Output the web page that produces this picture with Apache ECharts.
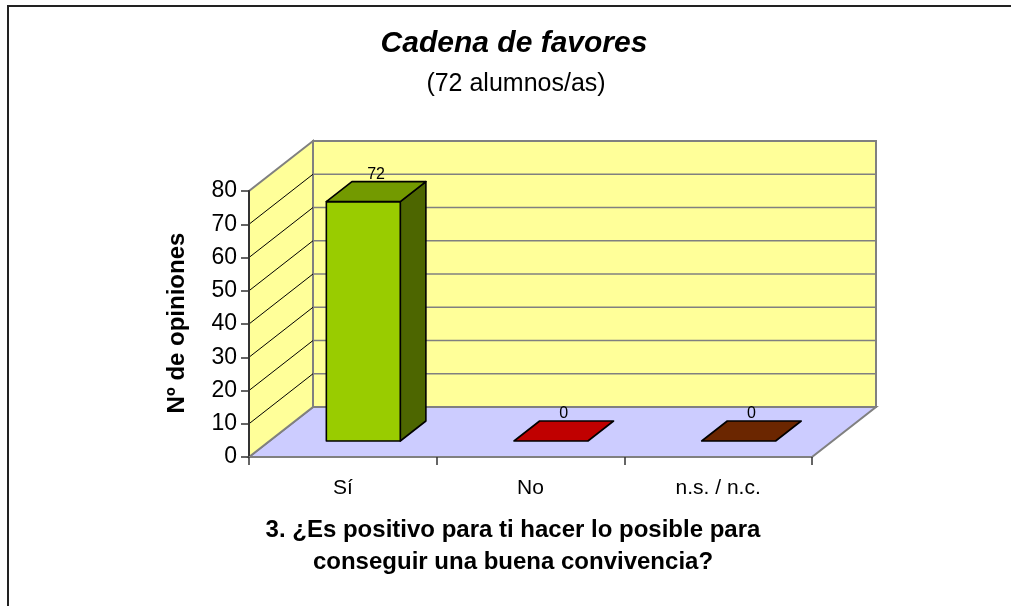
<!DOCTYPE html>
<html>
<head>
<meta charset="utf-8">
<script src="https://cdn.jsdelivr.net/npm/echarts@6/dist/echarts.min.js"></script>
<style>
  html, body { margin: 0; padding: 0; background: #ffffff; }
  #chart { width: 1011px; height: 606px; }
</style>
</head>
<body>
<div id="chart"></div>
<script>
// Survey answers
const categories = ['Sí', 'No', 'n.s. / n.c.'];
const opinions = [72, 0, 0];
const yTicks = [0, 10, 20, 30, 40, 50, 60, 70, 80];

// Palette: front, top and side faces of each column
const frontColors = ['#99CC00', '#FF0000', '#993300'];
const topColors = ['#739A00', '#C00000', '#6B2600'];
const sideColors = ['#4D6600', '#800000', '#4A1A00'];

// Oblique projection of the depth axis (pixels for the full floor depth)
const DX = 64, DY = -50;
const F_DEPTH = 0.32, B_DEPTH = 0.72;   // column front / back plane
const BAR_WIDTH = 0.394;                 // share of the category band

const FONT = '"Liberation Sans", Arial, sans-serif';

function renderWalls(params, api) {
  const cs = params.coordSys;
  const L = cs.x, R = cs.x + cs.width;
  const y0 = api.coord([0, yTicks[0]])[1];
  const yTop = api.coord([0, yTicks[yTicks.length - 1]])[1];
  const wallEdge = { stroke: '#808080', lineWidth: 2 };
  const children = [
    { type: 'polygon', shape: { points: [[L, y0], [R, y0], [R + DX, y0 + DY], [L + DX, y0 + DY]] },
      style: Object.assign({ fill: '#CCCCFF' }, wallEdge) },
    { type: 'polygon', shape: { points: [[L, y0], [L + DX, y0 + DY], [L + DX, yTop + DY], [L, yTop]] },
      style: Object.assign({ fill: '#FFFF99' }, wallEdge) },
    { type: 'rect', shape: { x: L + DX, y: yTop + DY, width: R - L, height: y0 - yTop },
      style: Object.assign({ fill: '#FFFF99' }, wallEdge) }
  ];
  yTicks.slice(1, -1).forEach(function (v) {
    const y = api.coord([0, v])[1];
    children.push({ type: 'line', shape: { x1: L + DX, y1: y + DY, x2: R + DX, y2: y + DY },
      style: { stroke: '#808080', lineWidth: 1.5 } });
    children.push({ type: 'line', shape: { x1: L, y1: y, x2: L + DX, y2: y + DY },
      style: { stroke: '#000000', lineWidth: 1 } });
  });
  return { type: 'group', children: children };
}

function renderColumn(params, api) {
  const i = api.value(0), v = api.value(1);
  const base = api.coord([i, 0]);
  const top = api.coord([i, v]);
  const w = api.size([1, 0])[0] * BAR_WIDTH;
  const fx = F_DEPTH * DX, fy = F_DEPTH * DY;
  const bx = B_DEPTH * DX, by = B_DEPTH * DY;
  const xl = base[0] - w / 2 + fx, xr = base[0] + w / 2 + fx;
  const yb = base[1] + fy, yt = top[1] + fy;
  const dx = bx - fx, dy = by - fy;
  const edge = { stroke: '#000000', lineWidth: 1.6, lineJoin: 'round' };
  const children = [];
  if (yb - yt > 0.5) {
    children.push({ type: 'polygon', shape: { points: [[xr, yt], [xr + dx, yt + dy], [xr + dx, yb + dy], [xr, yb]] },
      style: Object.assign({ fill: sideColors[i] }, edge) });
    children.push({ type: 'rect', shape: { x: xl, y: yt, width: xr - xl, height: yb - yt },
      style: Object.assign({ fill: frontColors[i] }, edge) });
  }
  children.push({ type: 'polygon', shape: { points: [[xl, yt], [xr, yt], [xr + dx, yt + dy], [xl + dx, yt + dy]] },
    style: Object.assign({ fill: topColors[i] }, edge) });
  children.push({ type: 'text', style: {
    text: String(v), x: (xl + xr) / 2 + dx / 2, y: yt + dy + 1,
    align: 'center', verticalAlign: 'bottom', fontSize: 16, fontFamily: FONT, fill: '#000000' } });
  return { type: 'group', children: children };
}

const chart = echarts.init(document.getElementById('chart'), null, { renderer: 'canvas' });

chart.setOption({
  backgroundColor: '#ffffff',
  animation: false,
  grid: { left: 249, right: 199, top: 191, bottom: 149, containLabel: false },
  xAxis: {
    type: 'category',
    data: categories,
    z: 5,
    axisLine: { show: true, lineStyle: { color: '#808080', width: 2 } },
    axisTick: { show: true, length: 8, lineStyle: { color: '#333333', width: 1.5 } },
    axisLabel: { margin: 21, fontSize: 21, fontFamily: FONT, color: '#000000' },
    splitLine: { show: false }
  },
  yAxis: {
    type: 'value',
    min: 0, max: 80, interval: 10,
    z: 5,
    axisLine: { show: true, lineStyle: { color: '#333333', width: 2 } },
    axisTick: { show: true, length: 8, lineStyle: { color: '#333333', width: 1.5 } },
    axisLabel: { margin: 12, fontSize: 23, fontFamily: FONT, color: '#000000',
      formatter: function (val) { return yTicks.indexOf(val) >= 0 ? String(val) : ''; } },
    splitLine: { show: false }
  },
  series: [
    { type: 'custom', z: 1, silent: true, renderItem: renderWalls, data: [[0, 0]] },
    { type: 'custom', z: 3, silent: true, renderItem: renderColumn,
      data: opinions.map(function (v, i) { return [i, v]; }) }
  ],
  graphic: [
    { type: 'rect', z: 10, shape: { x: 8, y: 6, width: 1100, height: 700 },
      style: { fill: 'none', stroke: '#222222', lineWidth: 2 } },
    { type: 'text', x: 514, y: 44, style: { text: 'Cadena de favores', align: 'center', verticalAlign: 'middle',
      fontSize: 30, fontWeight: 'bold', fontStyle: 'italic', fontFamily: FONT, fill: '#000000' } },
    { type: 'text', x: 516, y: 84, style: { text: '(72 alumnos/as)', align: 'center', verticalAlign: 'middle',
      fontSize: 25, fontFamily: FONT, fill: '#000000' } },
    { type: 'text', x: 177, y: 323, rotation: Math.PI / 2, style: { text: 'Nº de opiniones', align: 'center',
      verticalAlign: 'middle', fontSize: 24, fontWeight: 'bold', fontFamily: FONT, fill: '#000000' } },
    { type: 'text', x: 513, y: 546, style: {
      text: '3. ¿Es positivo para ti hacer lo posible para\nconseguir una buena convivencia?',
      align: 'center', verticalAlign: 'middle', lineHeight: 32,
      fontSize: 24, fontWeight: 'bold', fontFamily: FONT, fill: '#000000' } }
  ]
});
</script>
</body>
</html>
